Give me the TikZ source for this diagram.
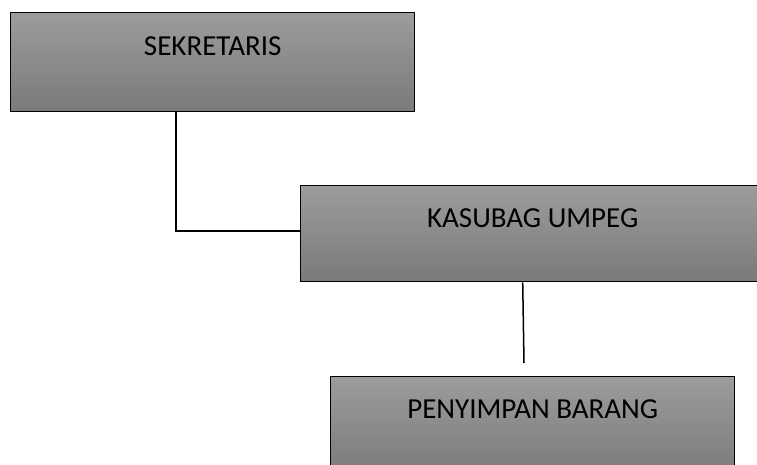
\documentclass[tikz,border=0pt]{standalone}
\usepackage{fontspec}
\setmainfont{Carlito}
\definecolor{boxtop}{RGB}{156,156,156}
\definecolor{boxbot}{RGB}{122,122,122}
\begin{document}
\begin{tikzpicture}[x=1pt,y=-1pt,
  orgbox/.style={draw=black, line width=1.4pt, rectangle, inner sep=0pt,
    top color=boxtop, bottom color=boxbot, anchor=north west},
  boxtext/.style={anchor=base, font=\fontsize{29}{34}\selectfont, text=black, inner sep=0pt},
  link/.style={draw=black, line width=1.8pt}]
\useasboundingbox (0,0) rectangle (757,465);
\clip (0,0) rectangle (757,465);
\node[orgbox, minimum width=404pt, minimum height=99pt,
  label={[boxtext, yshift=-44pt]north:SEKRETARIS}] (b1) at (10,12) {};
\node[orgbox, minimum width=457pt, minimum height=96pt,
  label={[boxtext, xshift=4pt, yshift=-42pt]north:KASUBAG UMPEG}] (b2) at (299.5,185) {};
\node[orgbox, minimum width=404pt, minimum height=100pt,
  label={[boxtext, yshift=-42pt]north:PENYIMPAN BARANG}] (b3) at (330,376) {};
\coordinate (c1) at (176,0);
\coordinate (c2) at (524,363);
\draw[link, line cap=rect] (b1.south -| c1) |- ([yshift=3pt]b2.west);
\draw[link, line width=1.5pt] ([xshift=-6pt]b2.south) -- (c2);
\end{tikzpicture}
\end{document}
